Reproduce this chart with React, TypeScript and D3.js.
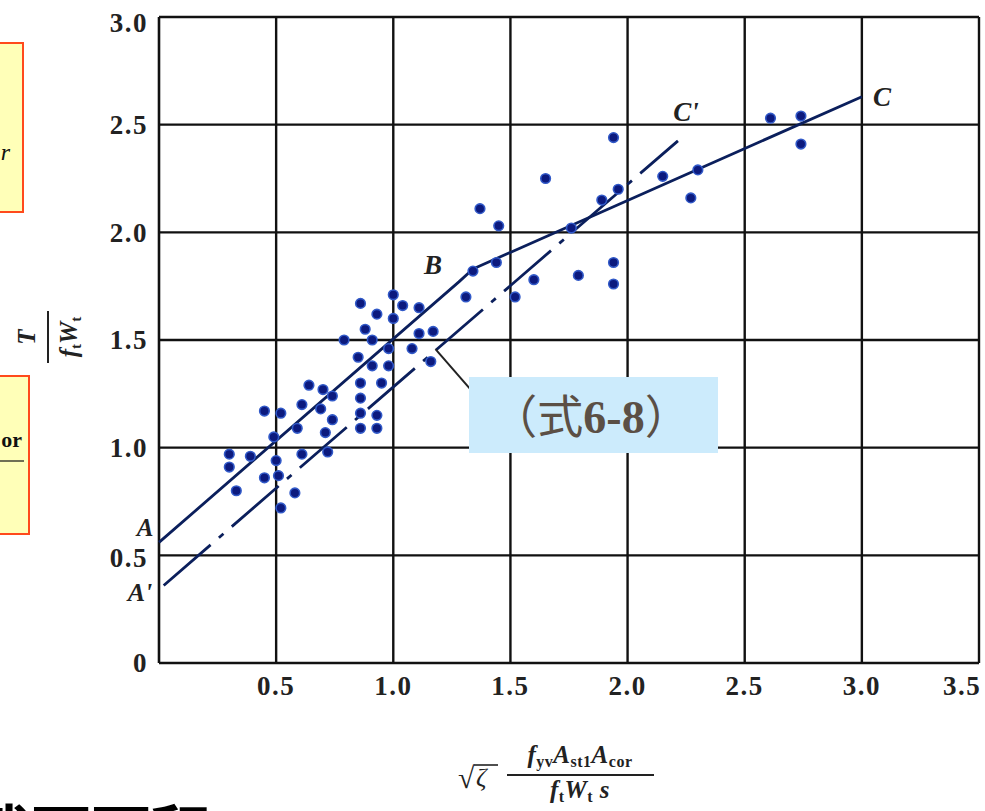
import React from 'react';
import * as d3 from 'd3';

const W = 985;
const H = 811;

const xTickValues = [0.5, 1.0, 1.5, 2.0, 2.5, 3.0, 3.5];
const xTickLabels = ['0.5', '1.0', '1.5', '2.0', '2.5', '3.0', '3.5'];
const yTickValues = [0, 0.5, 1.0, 1.5, 2.0, 2.5, 3.0];
const yTickLabels = ['0', '0.5', '1.0', '1.5', '2.0', '2.5', '3.0'];

const pointX = [
  0.30, 0.30, 0.33, 0.39, 0.45, 0.45, 0.49, 0.50, 0.51, 0.52, 0.52, 0.58, 0.59, 0.61, 0.61, 0.64,
  0.69, 0.70, 0.71, 0.72, 0.74, 0.74, 0.79, 0.85, 0.86, 0.86, 0.86, 0.86, 0.86, 0.88, 0.91, 0.91,
  0.93, 0.93, 0.93, 0.95, 0.98, 0.98, 1.00, 1.00, 1.04, 1.08, 1.11, 1.11, 1.17, 1.16, 1.31, 1.34,
  1.37, 1.44, 1.45, 1.52, 1.60, 1.65, 1.76, 1.79, 1.89, 1.94, 1.94, 1.94, 1.96, 2.15, 2.27, 2.30,
  2.61, 2.74, 2.74,
];
const pointY = [
  0.97, 0.91, 0.80, 0.96, 1.17, 0.86, 1.05, 0.94, 0.87, 0.72, 1.16, 0.79, 1.09, 0.97, 1.20, 1.29,
  1.18, 1.27, 1.07, 0.98, 1.24, 1.13, 1.50, 1.42, 1.67, 1.30, 1.23, 1.16, 1.09, 1.55, 1.50, 1.38,
  1.62, 1.15, 1.09, 1.30, 1.46, 1.38, 1.71, 1.60, 1.66, 1.46, 1.65, 1.53, 1.54, 1.40, 1.70, 1.82,
  2.11, 1.86, 2.03, 1.70, 1.78, 2.25, 2.02, 1.80, 2.15, 1.86, 1.76, 2.44, 2.20, 2.26, 2.16, 2.29,
  2.53, 2.54, 2.41,
];

// Solid line A-B-C
const lineABCx = [0, 1.28, 1.34, 3.0];
const lineABCy = [0.56, 1.77, 1.83, 2.63];
// Dash-dot line A'-C'
const lineACx = [0.02, 2.215];
const lineACy = [0.36, 2.425];

const xS = d3.scaleLinear().domain([0, 3.5]).range([159, 979]);
const yS = d3.scaleLinear().domain([0, 3.0]).range([663, 17]);

const serif = '"Liberation Serif", "DejaVu Serif", serif';
const cjk = '"Noto Sans CJK SC", sans-serif';

export default function App() {
  const line = d3
    .line<[number, number]>()
    .x((d) => xS(d[0]))
    .y((d) => yS(d[1]));
  const abc = line(lineABCx.map((x, i) => [x, lineABCy[i]]) as [number, number][]) || '';
  const ac = line(lineACx.map((x, i) => [x, lineACy[i]]) as [number, number][]) || '';

  const gridColor = '#111';
  const lineColor = '#0b1f5c';

  return (
    <svg
      width={W}
      height={H}
      viewBox={`0 0 ${W} ${H}`}
      style={{ position: 'absolute', left: 0, top: 0, background: '#fff' }}
    >
      <rect x={0} y={0} width={W} height={H} fill="#fff" />

      {/* left cropped yellow boxes */}
      <rect x={-10} y={43} width={33} height={169} fill="#FFFFB8" stroke="#FF4A1C" strokeWidth={2} />
      <text x={10} y={160} fontFamily={serif} fontStyle="italic" fontSize={24} textAnchor="end" fill="#111">r</text>
      <rect x={-10} y={376} width={39} height={158} fill="#FFFFB8" stroke="#FF4A1C" strokeWidth={2} />
      <text x={22} y={447} fontFamily={serif} fontWeight="bold" fontSize={22} textAnchor="end" fill="#111">or</text>
      <line x1={0} x2={24} y1={461} y2={461} stroke="#111" strokeWidth={1.2} />

      {/* grid */}
      <line x1={xS(0)} x2={xS(0)} y1={yS(0)} y2={yS(3)} stroke={gridColor} strokeWidth={2.6} />
      {xTickValues.map((v) => (
        <line key={'gx' + v} x1={xS(v)} x2={xS(v)} y1={yS(0)} y2={yS(3)} stroke={gridColor} strokeWidth={2.4} />
      ))}
      {yTickValues.map((v) => (
        <line key={'gy' + v} x1={xS(0)} x2={xS(3.5)} y1={yS(v)} y2={yS(v)} stroke={gridColor} strokeWidth={2.4} />
      ))}

      {/* tick labels */}
      {yTickValues.map((v, i) => (
        <text
          key={'yt' + v}
          x={148}
          y={yS(v) + (v === 3 ? 6 : v === 0.5 ? 2 : 0)}
          dy="0.35em"
          textAnchor="end"
          fontFamily={serif}
          fontWeight="bold"
          fontSize={27}
          letterSpacing={1.5}
          fill="#222"
        >
          {yTickLabels[i]}
        </text>
      ))}
      {xTickValues.map((v, i) => (
        <text
          key={'xt' + v}
          x={Math.min(xS(v), 962)}
          y={686}
          dy="0.35em"
          textAnchor="middle"
          fontFamily={serif}
          fontWeight="bold"
          fontSize={27}
          letterSpacing={1.5}
          fill="#222"
        >
          {xTickLabels[i]}
        </text>
      ))}

      {/* fitted lines */}
      <path d={abc} fill="none" stroke={lineColor} strokeWidth={2.8} strokeLinejoin="round" />
      <path d={ac} fill="none" stroke={lineColor} strokeWidth={2.8} strokeDasharray="62,11,6,11" />

      {/* leader line */}
      <line x1={xS(1.18)} y1={yS(1.458)} x2={xS(1.336)} y2={yS(1.263)} stroke="#222" strokeWidth={2} />

      {/* points */}
      {pointX.map((x, i) => (
        <circle key={'p' + i} cx={xS(x)} cy={yS(pointY[i])} r={4.8} fill="#0c1a7e" stroke="#3159c8" strokeWidth={1.6} />
      ))}

      {/* letter annotations */}
      <text x={145} y={536} textAnchor="middle" fontFamily={serif} fontStyle="italic" fontWeight="bold" fontSize={25} fill="#222">A</text>
      <text x={140} y={601} textAnchor="middle" fontFamily={serif} fontStyle="italic" fontWeight="bold" fontSize={26} fill="#222">A'</text>
      <text x={433} y={274} textAnchor="middle" fontFamily={serif} fontStyle="italic" fontWeight="bold" fontSize={27} fill="#222">B</text>
      <text x={686} y={121} textAnchor="middle" fontFamily={serif} fontStyle="italic" fontWeight="bold" fontSize={27} fill="#222">C'</text>
      <text x={882} y={106} textAnchor="middle" fontFamily={serif} fontStyle="italic" fontWeight="bold" fontSize={27} fill="#222">C</text>

      {/* formula callout */}
      <rect x={469} y={377} width={249} height={76} fill="#CCEBFC" />
      <text x={591} y={433} textAnchor="middle" fontSize={46} fill="#5b4f45">
        <tspan fontFamily={cjk}>（式</tspan>
        <tspan fontFamily={serif} fontWeight="bold">6-8</tspan>
        <tspan fontFamily={cjk}>）</tspan>
      </text>

      {/* y-axis title */}
      <g transform="translate(48,337) rotate(-90)">
        <line x1={-26} x2={26} y1={0} y2={0} stroke="#222" strokeWidth={2} />
        <text x={0} y={-13} textAnchor="middle" fontFamily={serif} fontStyle="italic" fontWeight="bold" fontSize={25} fill="#222">T</text>
        <text x={0} y={29} textAnchor="middle" fontFamily={serif} fontStyle="italic" fontWeight="bold" fontSize={25} fill="#222">
          f<tspan fontSize={15} fontStyle="normal" dy={4}>t</tspan>
          <tspan dy={-4}>W</tspan>
          <tspan fontSize={15} fontStyle="normal" dy={4}>t</tspan>
        </text>
      </g>

      {/* x-axis title */}
      <g>
        <text x={458} y={788} fontFamily={serif} fontSize={30} fill="#222">√</text>
        <line x1={474} x2={498} y1={765} y2={765} stroke="#222" strokeWidth={1.6} />
        <text x={476} y={786} fontFamily={serif} fontStyle="italic" fontSize={26} fill="#222">ζ</text>
        <text x={580} y={763} textAnchor="middle" fontFamily={serif} fontStyle="italic" fontWeight="bold" fontSize={25} letterSpacing={0.5} fill="#222">
          f<tspan fontSize={16} fontStyle="normal" dy={4}>yv</tspan>
          <tspan dy={-4}>A</tspan>
          <tspan fontSize={16} fontStyle="normal" dy={4}>st1</tspan>
          <tspan dy={-4}>A</tspan>
          <tspan fontSize={16} fontStyle="normal" dy={4}>cor</tspan>
        </text>
        <line x1={507} x2={654} y1={775} y2={775} stroke="#222" strokeWidth={1.8} />
        <text x={580} y={798} textAnchor="middle" fontFamily={serif} fontStyle="italic" fontWeight="bold" fontSize={25} letterSpacing={0.5} fill="#222">
          f<tspan fontSize={16} fontStyle="normal" dy={4}>t</tspan>
          <tspan dy={-4}>W</tspan>
          <tspan fontSize={16} fontStyle="normal" dy={4}>t</tspan>
          <tspan dy={-4}> s</tspan>
        </text>
      </g>

      {/* cropped slide text at bottom */}
      <text x={-29} y={855} fontFamily={cjk} fontWeight="bold" fontSize={60} fill="#000">截面面积</text>
    </svg>
  );
}
